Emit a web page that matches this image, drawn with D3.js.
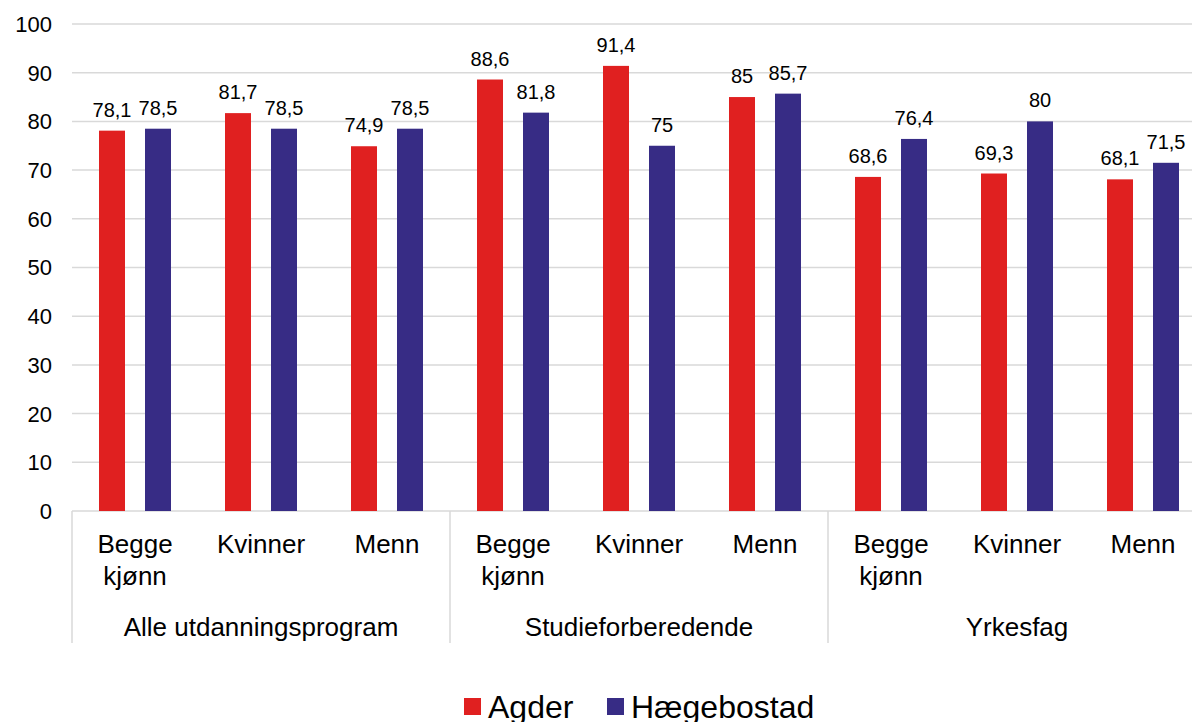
<!DOCTYPE html>
<meta charset="utf-8">
<style>
  body { margin: 0; background: #fff; }
  text { font-family: "Liberation Sans", Arial, sans-serif; fill: #000; }
</style>
<svg width="1192" height="722"></svg>
<script src="https://d3js.org/d3.v7.min.js"></script>
<script>
// groups and their sub categories
var groups = ["Alle utdanningsprogram", "Studieforberedende", "Yrkesfag"]
var subCats = [["Begge", "kjønn"], ["Kvinner"], ["Menn"]]
var seriesNames = ["Agder", "Hægebostad"]
var seriesColors = ["#e02020", "#372c85"]

// values per group, in sub category order
var agder = [[78.1, 81.7, 74.9], [88.6, 91.4, 85], [68.6, 69.3, 68.1]]
var haegebostad = [[78.5, 78.5, 78.5], [81.8, 75, 85.7], [76.4, 80, 71.5]]

var yTicks = [0, 10, 20, 30, 40, 50, 60, 70, 80, 90, 100]

var svg = d3.select("svg")
var fmt = function (v) { return String(v).replace(".", ",") }

var y = d3.scaleLinear().domain([0, 100]).range([511, 24])
// the plot runs past the right edge of the picture
var xGroup = d3.scaleBand().domain(groups).range([72, 1206])
var xSub = d3.scaleBand().domain([0, 1, 2]).range([0, xGroup.bandwidth()])
var xBar = d3.scaleBand().domain([0, 1]).range([-36, 36]).paddingInner(0.435)

// gridlines
svg.append("g").selectAll("line")
  .data(yTicks)
  .join("line")
  .attr("x1", 72).attr("x2", 1192)
  .attr("y1", function (d) { return y(d) }).attr("y2", function (d) { return y(d) })
  .attr("stroke", "#d9d9d9").attr("stroke-width", 1.5)

// y tick labels
svg.append("g").selectAll("text")
  .data(yTicks)
  .join("text")
  .attr("x", 52).attr("y", function (d) { return y(d) })
  .attr("dy", "0.36em")
  .attr("text-anchor", "end")
  .attr("font-size", 22)
  .text(function (d) { return d })

// group separators below the axis
svg.append("g").selectAll("line")
  .data(groups.concat(["end"]))
  .join("line")
  .attr("x1", function (d, i) { return 72 + i * xGroup.step() })
  .attr("x2", function (d, i) { return 72 + i * xGroup.step() })
  .attr("y1", 511).attr("y2", 643)
  .attr("stroke", "#d9d9d9").attr("stroke-width", 1.5)

var rows = []
groups.forEach(function (g, gi) {
  for (var si = 0; si < 3; si++) {
    rows.push({ group: g, sub: si, values: [agder[gi][si], haegebostad[gi][si]] })
  }
})

var cells = svg.append("g").selectAll("g")
  .data(rows)
  .join("g")
  .attr("transform", function (d) {
    return "translate(" + (xGroup(d.group) + xSub(d.sub) + xSub.bandwidth() / 2) + ",0)"
  })

cells.selectAll("rect")
  .data(function (d) { return d.values })
  .join("rect")
  .attr("x", function (d, i) { return xBar(i) })
  .attr("width", xBar.bandwidth())
  .attr("y", function (d) { return y(d) })
  .attr("height", function (d) { return y(0) - y(d) })
  .attr("fill", function (d, i) { return seriesColors[i] })

cells.selectAll("text.val")
  .data(function (d) { return d.values })
  .join("text")
  .attr("class", "val")
  .attr("x", function (d, i) { return xBar(i) + xBar.bandwidth() / 2 })
  .attr("y", function (d) { return y(d) - 14 })
  .attr("text-anchor", "middle")
  .attr("font-size", 20)
  .text(fmt)

// sub category labels
cells.selectAll("text.sub")
  .data(function (d) { return subCats[d.sub] })
  .join("text")
  .attr("class", "sub")
  .attr("x", 0)
  .attr("y", function (d, i) { return 553 + i * 32 })
  .attr("text-anchor", "middle")
  .attr("font-size", 26)
  .text(function (d) { return d })

// group labels
svg.append("g").selectAll("text")
  .data(groups)
  .join("text")
  .attr("x", function (d) { return xGroup(d) + xGroup.bandwidth() / 2 })
  .attr("y", 636)
  .attr("text-anchor", "middle")
  .attr("font-size", 26)
  .text(function (d) { return d })

// legend
var legendX = [464, 607]
var legend = svg.append("g").selectAll("g")
  .data(seriesNames)
  .join("g")
  .attr("transform", function (d, i) { return "translate(" + legendX[i] + ",698)" })
legend.append("rect")
  .attr("width", 17).attr("height", 17)
  .attr("fill", function (d, i) { return seriesColors[i] })
legend.append("text")
  .attr("x", 24).attr("y", 20)
  .attr("font-size", 32)
  .text(function (d) { return d })
</script>
